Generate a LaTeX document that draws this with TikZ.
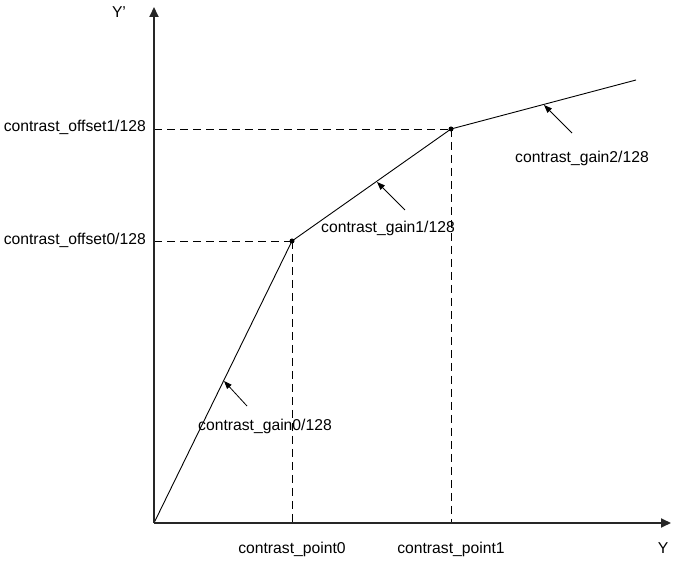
\documentclass[tikz,border=0pt]{standalone}
\usepackage{fontspec}
\setmainfont{Liberation Sans}
\usetikzlibrary{arrows.meta}
\begin{document}
\begin{tikzpicture}[x=1pt,y=-1pt,
  lbl/.style={inner sep=0pt, font=\fontsize{15.7}{18}\selectfont},
  axis/.style={line width=2pt, draw=black!85, -{Triangle[length=10pt,width=9pt]}},
  guide/.style={dash pattern=on 8pt off 5pt, line width=0.8pt},
  curve/.style={line width=0.9pt},
  pointer/.style={line width=0.8pt, -{Triangle[length=8pt,width=6pt]}},
  knot/.style={circle, fill, inner sep=0pt, minimum size=5pt}]
\useasboundingbox (0,0) rectangle (673,561);
\coordinate (O) at (154,523);
\coordinate (ytip) at (154,7);
\coordinate (xtip) at (671,523);
\coordinate (end) at (636,80);
\coordinate (yk0) at (154,241);
\coordinate (yk1) at (154,129);
\coordinate (xk0) at (292,523);
\coordinate (xk1) at (451,523);
\node[knot] (k0) at (292,241) {};
\node[knot] (k1) at (451,129) {};
% dashed guides
\draw[guide] (yk1) -- (k1.center);
\draw[guide] (yk0) -- (k0.center);
\draw[guide] (k0.center) -- (xk0);
\draw[guide] (k1.center) -- (xk1);
% curve
\draw[curve] (O) -- (k0.center) -- (k1.center) -- (end);
% axes
\draw[axis] (O) -- (ytip);
\draw[axis] (O) -- (xtip);
% pointers
\coordinate (t2) at (572,133); \coordinate (h2) at (544,105);
\coordinate (t1) at (405,210); \coordinate (h1) at (377,182);
\coordinate (t0) at (247,406); \coordinate (h0) at (224,381);
\draw[pointer] (t2) -- (h2);
\draw[pointer] (t1) -- (h1);
\draw[pointer] (t0) -- (h0);
% labels
\node[lbl, anchor=base east] (off1) at (146,132) {contrast\_offset1/128};
\node[lbl, anchor=base east] (off0) at (146,245) {contrast\_offset0/128};
\node[lbl, anchor=base] (p0) at (292,554) {contrast\_point0};
\node[lbl, anchor=base] (p1) at (451,554) {contrast\_point1};
\node[lbl, anchor=base] (ylab) at (663,554) {Y};
\node[lbl, anchor=base] (yplab) at (119,18) {Y’};
\node[lbl, anchor=base] (g2) at (582,163) {contrast\_gain2/128};
\node[lbl, anchor=base] (g1) at (388,233) {contrast\_gain1/128};
\node[lbl, anchor=base] (g0) at (265,431) {contrast\_gain0/128};
\end{tikzpicture}
\end{document}
